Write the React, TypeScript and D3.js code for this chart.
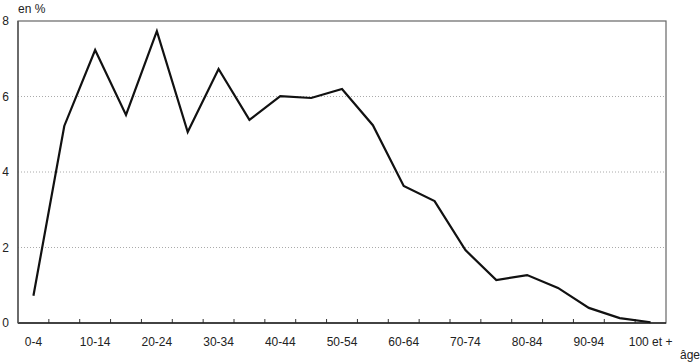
import React from "react";
import * as d3 from "d3";

const categories = [
  "0-4", "5-9", "10-14", "15-19", "20-24", "25-29", "30-34", "35-39", "40-44", "45-49",
  "50-54", "55-59", "60-64", "65-69", "70-74", "75-79", "80-84", "85-89", "90-94", "95-99", "100 et +",
];
const values = [
  0.72, 5.22, 7.23, 5.51, 7.73, 5.06, 6.73, 5.38, 6.01, 5.96,
  6.2, 5.24, 3.63, 3.23, 1.93, 1.14, 1.27, 0.93, 0.4, 0.13, 0.02,
];
const yTicks = [0, 2, 4, 6, 8];
const labeledCategories = ["0-4", "10-14", "20-24", "30-34", "40-44", "50-54", "60-64", "70-74", "80-84", "90-94", "100 et +"];

const W = 700, H = 364;
const left = 18, right = 666, top = 21, bottom = 323;
const font = "'Liberation Sans', Arial, Helvetica, sans-serif";

export default function App() {
  const x = d3.scaleBand<string>().domain(categories).range([left, right]).padding(0);
  const y = d3.scaleLinear().domain([0, 8]).range([bottom, top]);
  const line = d3.line<number>()
    .x((_, i) => (x(categories[i]) as number) + x.bandwidth() / 2)
    .y((d) => y(d));
  const boundaries = categories.slice(1).map((c) => x(c) as number);

  return (
    <svg width={W} height={H} style={{ position: "absolute", left: 0, top: 0, background: "#fff" }}>
      {yTicks.filter((t) => t > 0 && t < 8).map((t) => (
        <line key={"g" + t} x1={left} x2={right} y1={y(t)} y2={y(t)} stroke="#aaa" strokeWidth={1} strokeDasharray="1,2" />
      ))}
      <rect x={left} y={top} width={right - left} height={bottom - top} fill="none" stroke="#666" strokeWidth={1.2} />
      {boundaries.map((b, i) => (
        <line key={"t" + i} x1={b} x2={b} y1={bottom} y2={bottom - 4} stroke="#333" strokeWidth={1} />
      ))}
      <line x1={left} x2={right} y1={bottom} y2={bottom} stroke="#222" strokeWidth={1.4} />
      <line x1={left} x2={left} y1={top} y2={bottom} stroke="#555" strokeWidth={1.4} />
      {yTicks.map((t) => (
        <text key={"y" + t} x={9} y={y(t)} dy="0.35em" textAnchor="end" fontFamily={font} fontSize={12} fill="#222">{t}</text>
      ))}
      {labeledCategories.map((c) => (
        <text key={"x" + c} x={(x(c) as number) + x.bandwidth() / 2} y={346} textAnchor="middle" fontFamily={font} fontSize={12} fill="#222">{c}</text>
      ))}
      <text x={18} y={13} fontFamily={font} fontSize={12} fill="#222">en %</text>
      <text x={700} y={359} textAnchor="end" fontFamily={font} fontSize={12} fill="#222">âge</text>
      <path d={line(values) || ""} fill="none" stroke="#111" strokeWidth={2.2} strokeLinejoin="miter" />
    </svg>
  );
}
